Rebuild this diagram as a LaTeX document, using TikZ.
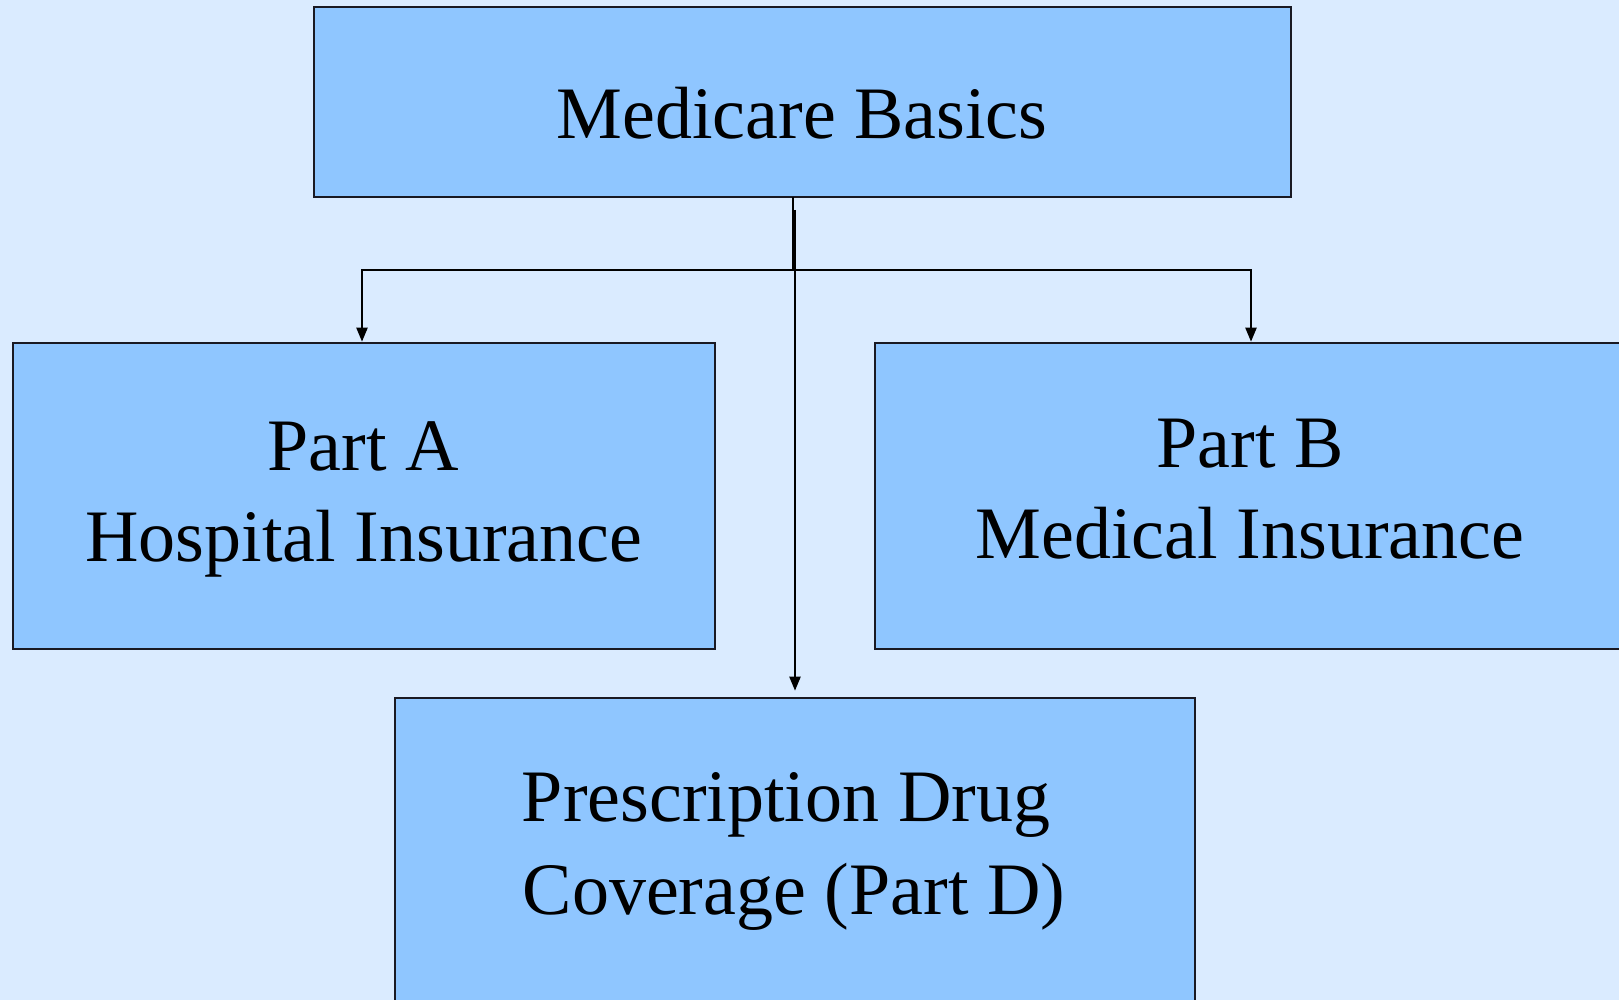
\documentclass[tikz,border=0pt]{standalone}
\usepackage{fontspec}
\setmainfont{Liberation Serif}
\usetikzlibrary{arrows.meta}
\definecolor{bgblue}{RGB}{218,235,255}
\definecolor{boxblue}{RGB}{143,198,255}
\definecolor{edgecol}{RGB}{25,25,35}
\tikzset{
  boxnode/.style={draw=edgecol, line width=2.6pt, fill=boxblue, rectangle, inner sep=0pt},
  txt/.style={anchor=base, inner sep=0pt, font=\fontsize{74}{91}\selectfont},
  conn/.style={draw=black, line width=2.2pt},
  arr/.style={conn, -{Triangle[width=11pt,length=14pt]}},
}
\begin{document}
\begin{tikzpicture}[x=1pt,y=-1pt]
\useasboundingbox (0,0) rectangle (1619,1000);
\clip (0,0) rectangle (1619,1000);
\fill[bgblue] (0,0) rectangle (1619,1000);
% boxes
\node[boxnode, minimum width=977pt, minimum height=190pt] (top) at (802.5,102) {};
\node[boxnode, minimum width=702pt, minimum height=306pt] (pa) at (364,496) {};
\node[boxnode, minimum width=755pt, minimum height=306pt] (pb) at (1252.5,496) {};
\node[boxnode, minimum width=800pt, minimum height=312pt] (pd) at (795,854) {};
% texts
\node[txt] (t1) at (802,139) {Medicare Basics};
\node[txt] (a1) at (363,470) {Part A};
\node[txt] (a2) at (364,561) {Hospital Insurance};
\node[txt] (b1) at (1250,467) {Part B};
\node[txt] (b2) at (1250,558) {Medical Insurance};
\node[txt] (d1) at (786,821) {Prescription Drug};
\node[txt] (d2) at (794,914) {Coverage (Part D)};
% connectors
\coordinate (jn) at (793,270);
\coordinate (topout) at (793,197);
\coordinate (dstart) at (795,210);
\draw[conn] (topout) -- (jn);
\draw[arr] (jn) -| (pa.north -| 362,0);
\draw[arr] (jn) -| (pb.north -| 1251,0);
\draw[arr, shorten >=6pt] (dstart) -- (dstart |- pd.north);
\end{tikzpicture}
\end{document}
